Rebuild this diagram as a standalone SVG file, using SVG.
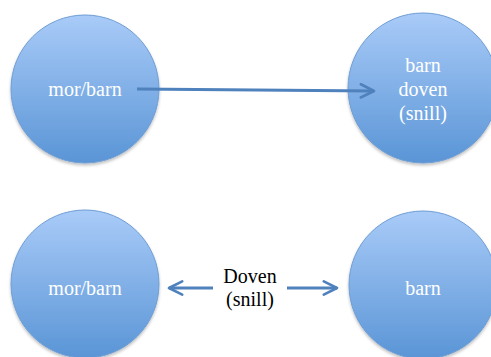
<svg xmlns="http://www.w3.org/2000/svg" width="491" height="357" viewBox="0 0 491 357">
<defs>
<linearGradient id="g" x1="0" y1="0" x2="0" y2="1">
<stop offset="0" stop-color="#A9CBF8"/>
<stop offset="1" stop-color="#5A95D6"/>
</linearGradient>
<filter id="sh" x="-20%" y="-20%" width="140%" height="140%">
<feGaussianBlur in="SourceAlpha" stdDeviation="1.5"/>
<feOffset dy="2" result="b"/>
<feFlood flood-color="#000" flood-opacity="0.25"/>
<feComposite in2="b" operator="in"/>
<feMerge><feMergeNode/><feMergeNode in="SourceGraphic"/></feMerge>
</filter>
<marker id="ah" viewBox="0 0 10 10" refX="9" refY="5" markerWidth="5.5" markerHeight="5.5" orient="auto" markerUnits="strokeWidth">
<path d="M1,1 L9,5 L1,9" fill="none" stroke="#4F81BD" stroke-width="1.6" stroke-linecap="round" stroke-linejoin="round"/>
</marker>
</defs>
<style>
.c{fill:url(#g);stroke:#6E9DD3;stroke-width:1;filter:url(#sh)}
.t{font-family:"Liberation Serif",serif;font-size:20px;fill:#fff;text-anchor:middle}
.k{font-family:"Liberation Serif",serif;font-size:20px;fill:#000;text-anchor:middle}
.e{stroke:#4F81BD;stroke-width:3;fill:none;marker-end:url(#ah)}
</style>
<g id="n1"><circle class="c" cx="85" cy="89" r="74"/><text class="t" x="85" y="96">mor/barn</text></g>
<g id="n2"><circle class="c" cx="423" cy="88" r="75"/><text class="t" x="423" y="72">barn</text><text class="t" x="423" y="96">doven</text><text class="t" x="423" y="120">(snill)</text></g>
<g id="n3"><circle class="c" cx="85" cy="284" r="74"/><text class="t" x="85" y="295">mor/barn</text></g>
<g id="n4"><circle class="c" cx="423" cy="285" r="74"/><text class="t" x="423" y="295">barn</text></g>
<g id="edges">
<line class="e" x1="137" y1="89" x2="374" y2="91"/>
<line class="e" x1="213" y1="288" x2="169" y2="288"/>
<line class="e" x1="287" y1="288" x2="337" y2="288"/>
<text class="k" x="250" y="283">Doven</text>
<text class="k" x="250" y="306">(snill)</text>
</g>
</svg>
